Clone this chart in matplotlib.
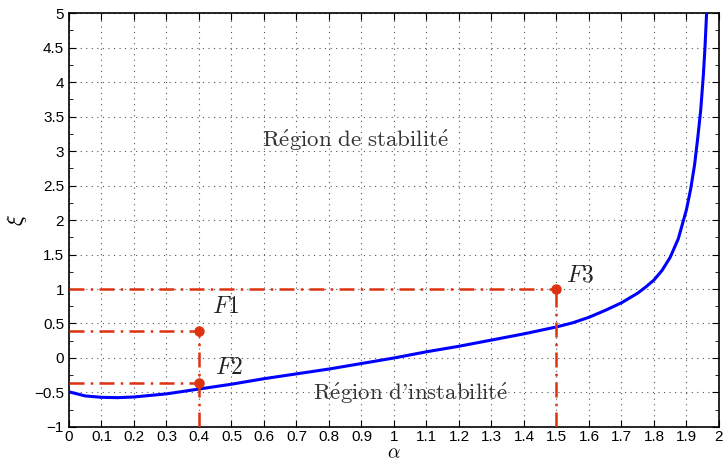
import numpy as np
import matplotlib
matplotlib.use("Agg")
import matplotlib.pyplot as plt
from matplotlib.ticker import MultipleLocator

plt.rcParams["mathtext.fontset"] = "cm"
plt.rcParams["font.family"] = ["Liberation Sans", "DejaVu Sans"]

# Stability boundary xi(alpha)
alpha = [0.0, 0.05, 0.1, 0.15, 0.2, 0.3, 0.4, 0.5, 0.6, 0.7, 0.8, 0.9, 1.0,
         1.1, 1.2, 1.3, 1.4, 1.5, 1.55, 1.6, 1.65, 1.7, 1.75, 1.775, 1.8,
         1.825, 1.85, 1.875, 1.9, 1.913, 1.925, 1.935, 1.944, 1.952, 1.957,
         1.962]
xi = [-0.49, -0.55, -0.57, -0.575, -0.565, -0.52, -0.45, -0.38, -0.30, -0.23,
      -0.16, -0.08, 0.0, 0.09, 0.17, 0.26, 0.35, 0.45, 0.51, 0.59, 0.69, 0.80,
      0.94, 1.03, 1.13, 1.27, 1.46, 1.73, 2.15, 2.45, 2.8, 3.2, 3.6, 4.1, 4.5,
      5.0]

# Operating points
pt_names = ["F1", "F2", "F3"]
pt_alpha = [0.4, 0.4, 1.5]
pt_xi = [0.39, -0.36, 1.0]
pt_label_pos = [(0.44, 0.74), (0.45, -0.15), (1.53, 1.2)]

xticks = np.round(np.arange(0, 2.01, 0.1), 1)
yticks = np.arange(-1, 5.01, 0.5)

red = "#dd3311"
dashdot = (0, (6, 2.5, 1, 2.5))

fig = plt.figure(figsize=(7.23, 4.63), dpi=100)
ax = fig.add_axes([0.0954, 0.0778, 0.899, 0.894])

ax.plot(alpha, xi, color="#0000ff", lw=2.2, zorder=3)

for name, a, x, (lx, ly) in zip(pt_names, pt_alpha, pt_xi, pt_label_pos):
    ax.plot([0, a], [x, x], color=red, lw=1.8, ls=dashdot, zorder=4)
    ax.plot(a, x, "o", color=red, ms=6.5, zorder=5)
    ax.text(lx, ly, "$" + name + "$", fontsize=17, ha="left",
            va="center", color="#222222")
# vertical drops to the alpha axis
for a, top in [(0.4, 0.39), (1.5, 1.0)]:
    ax.plot([a, a], [-1, top], color=red, lw=1.8, ls=dashdot, zorder=4)

ax.text(0.88, 3.16, r"$\mathrm{R\acute{e}gion\ de\ stabilit\acute{e}}$",
        fontsize=16.5, ha="center", va="center", color="#333333")
ax.text(1.05, -0.51, r"$\mathrm{R\acute{e}gion\ d\text{'}instabilit\acute{e}}$",
        fontsize=16.5, ha="center", va="center", color="#333333")

ax.set_xlim(0, 2)
ax.set_ylim(-1, 5)
ax.set_xticks(xticks)
ax.set_xticklabels([f"{t:g}" for t in xticks])
ax.set_yticks(yticks)
ax.set_yticklabels([f"{t:g}".replace("-", "\u2212") for t in yticks])
ax.yaxis.set_minor_locator(MultipleLocator(0.25))
ax.tick_params(which="both", direction="in", top=True, right=True,
               labelsize=11)
ax.tick_params(which="major", length=5)
ax.tick_params(which="minor", length=3)
ax.tick_params(axis="x", pad=2.5)
ax.grid(True, which="major", ls=(0, (1, 4)), color="#555555", lw=0.8)
for s in ax.spines.values():
    s.set_linewidth(1.2)

ax.set_xlabel(r"$\alpha$", fontsize=14)
ax.set_ylabel(r"$\xi$", fontsize=16)
ax.xaxis.set_label_coords(0.5, -0.043)
ax.yaxis.set_label_coords(-0.061, 0.5)

fig.savefig("out.png", dpi=100)
